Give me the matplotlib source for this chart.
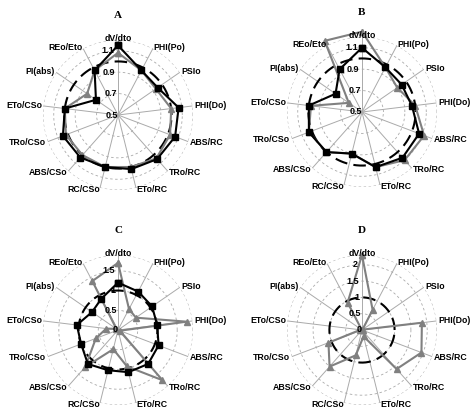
import numpy as np
import matplotlib.pyplot as plt

labels = ['dV/dto', 'PHI(Po)', 'PSIo', 'PHI(Do)', 'ABS/RC', 'TRo/RC', 'ETo/RC',
          'RC/CSo', 'ABS/CSo', 'TRo/CSo', 'ETo/CSo', 'PI(abs)', 'REo/Eto']

a_black = [1.15, 0.97, 0.95, 1.07, 1.07, 1.05, 1.02, 1.0, 1.03, 1.05, 1.0, 0.75, 0.97]
a_gray = [1.08, 0.97, 0.93, 1.0, 1.02, 1.04, 1.0, 1.0, 1.0, 1.02, 1.0, 0.85, 0.97]
b_black = [1.1, 0.97, 0.95, 0.97, 1.07, 1.07, 1.03, 0.9, 1.0, 1.03, 1.0, 0.8, 0.95]
b_gray = [1.25, 0.97, 0.9, 1.0, 1.12, 1.1, 1.03, 0.9, 1.0, 1.03, 0.98, 0.65, 1.25]
c_black = [1.2, 1.1, 1.05, 1.0, 1.1, 1.15, 1.1, 1.05, 1.15, 1.0, 1.05, 0.8, 0.9]
c_gray = [1.7, 0.6, 0.55, 1.75, 0.05, 1.7, 0.95, 0.5, 1.25, 0.6, 0.3, 0.05, 1.4]
d_gray = [2.3, 0.7, 0.02, 1.85, 1.95, 1.6, 0.2, 0.8, 1.5, 1.1, 0.05, 0.01, 0.95]

panels = [
    ('A', a_black, a_gray, 0.5, 1.2, [0.5, 0.7, 0.9, 1.1], [0.7, 0.9, 1.1, 1.2]),
    ('B', b_black, b_gray, 0.5, 1.2, [0.5, 0.7, 0.9, 1.1], [0.7, 0.9, 1.1, 1.2]),
    ('C', c_black, c_gray, 0.0, 1.9, [0, 0.5, 1, 1.5], [0.5, 1.0, 1.5, 1.9]),
    ('D', None, d_gray, 0.0, 2.3, [0, 0.5, 1, 1.5, 2], [0.5, 1.0, 1.5, 2.0, 2.3]),
]

n = len(labels)
ang = np.pi / 2 - np.arange(n) * 2 * np.pi / n
closed = lambda v: np.append(v, v[0])

W, H = 474, 407
fig = plt.figure(figsize=(W / 100, H / 100), dpi=100)
centers = [(118, 115), (362, 112), (118, 330), (362, 330)]
size = 150
tt = np.linspace(0, 2 * np.pi, 200)

for (name, blk, gry, rmin, rmax, ticks, rings), (cx, cy) in zip(panels, centers):
    ax = fig.add_axes([(cx - size / 2) / W, 1 - (cy + size / 2) / H, size / W, size / H], polar=True)
    ax.set_ylim(rmin, rmax)
    ax.set_xticks([])
    ax.set_yticks([])
    ax.grid(False)
    ax.spines['polar'].set_visible(False)
    for r in rings:
        ax.plot(tt, np.full_like(tt, r), color='#aaaaaa', ls=(0, (3, 3)), lw=0.6, zorder=1)
    for a, lab in zip(ang, labels):
        ax.plot([a, a], [rmin, rmax], color='#aaaaaa', lw=0.7, zorder=1)
        ha = 'center'
        c = np.cos(a)
        if c > 0.2:
            ha = 'left'
        elif c < -0.2:
            ha = 'right'
        ax.text(a, rmax + (rmax - rmin) * 0.02, lab, ha=ha, va='center',
                fontsize=6.3, fontweight='bold', family='Liberation Sans', zorder=6)
    ax.plot(tt, np.ones_like(tt), color='black', ls=(0, (6, 3)), lw=1.5, zorder=2)
    ax.plot(closed(ang), closed(np.clip(gry, rmin, None)), color='#808080', lw=1.5,
            marker='^', ms=5, zorder=3, clip_on=False)
    if blk is not None:
        ax.plot(closed(ang), closed(blk), color='black', lw=1.5, marker='s', ms=4.5,
                zorder=4, clip_on=False)
    for t in ticks:
        ax.text(np.pi / 2 + 0.06, t, ('%g' % t), ha='right', va='center',
                fontsize=6.5, fontweight='bold', family='Liberation Sans', zorder=5)
    ax.set_title(name, fontsize=8, fontweight='bold', family='Liberation Serif', pad=16)

fig.savefig('out.png', dpi=100)
